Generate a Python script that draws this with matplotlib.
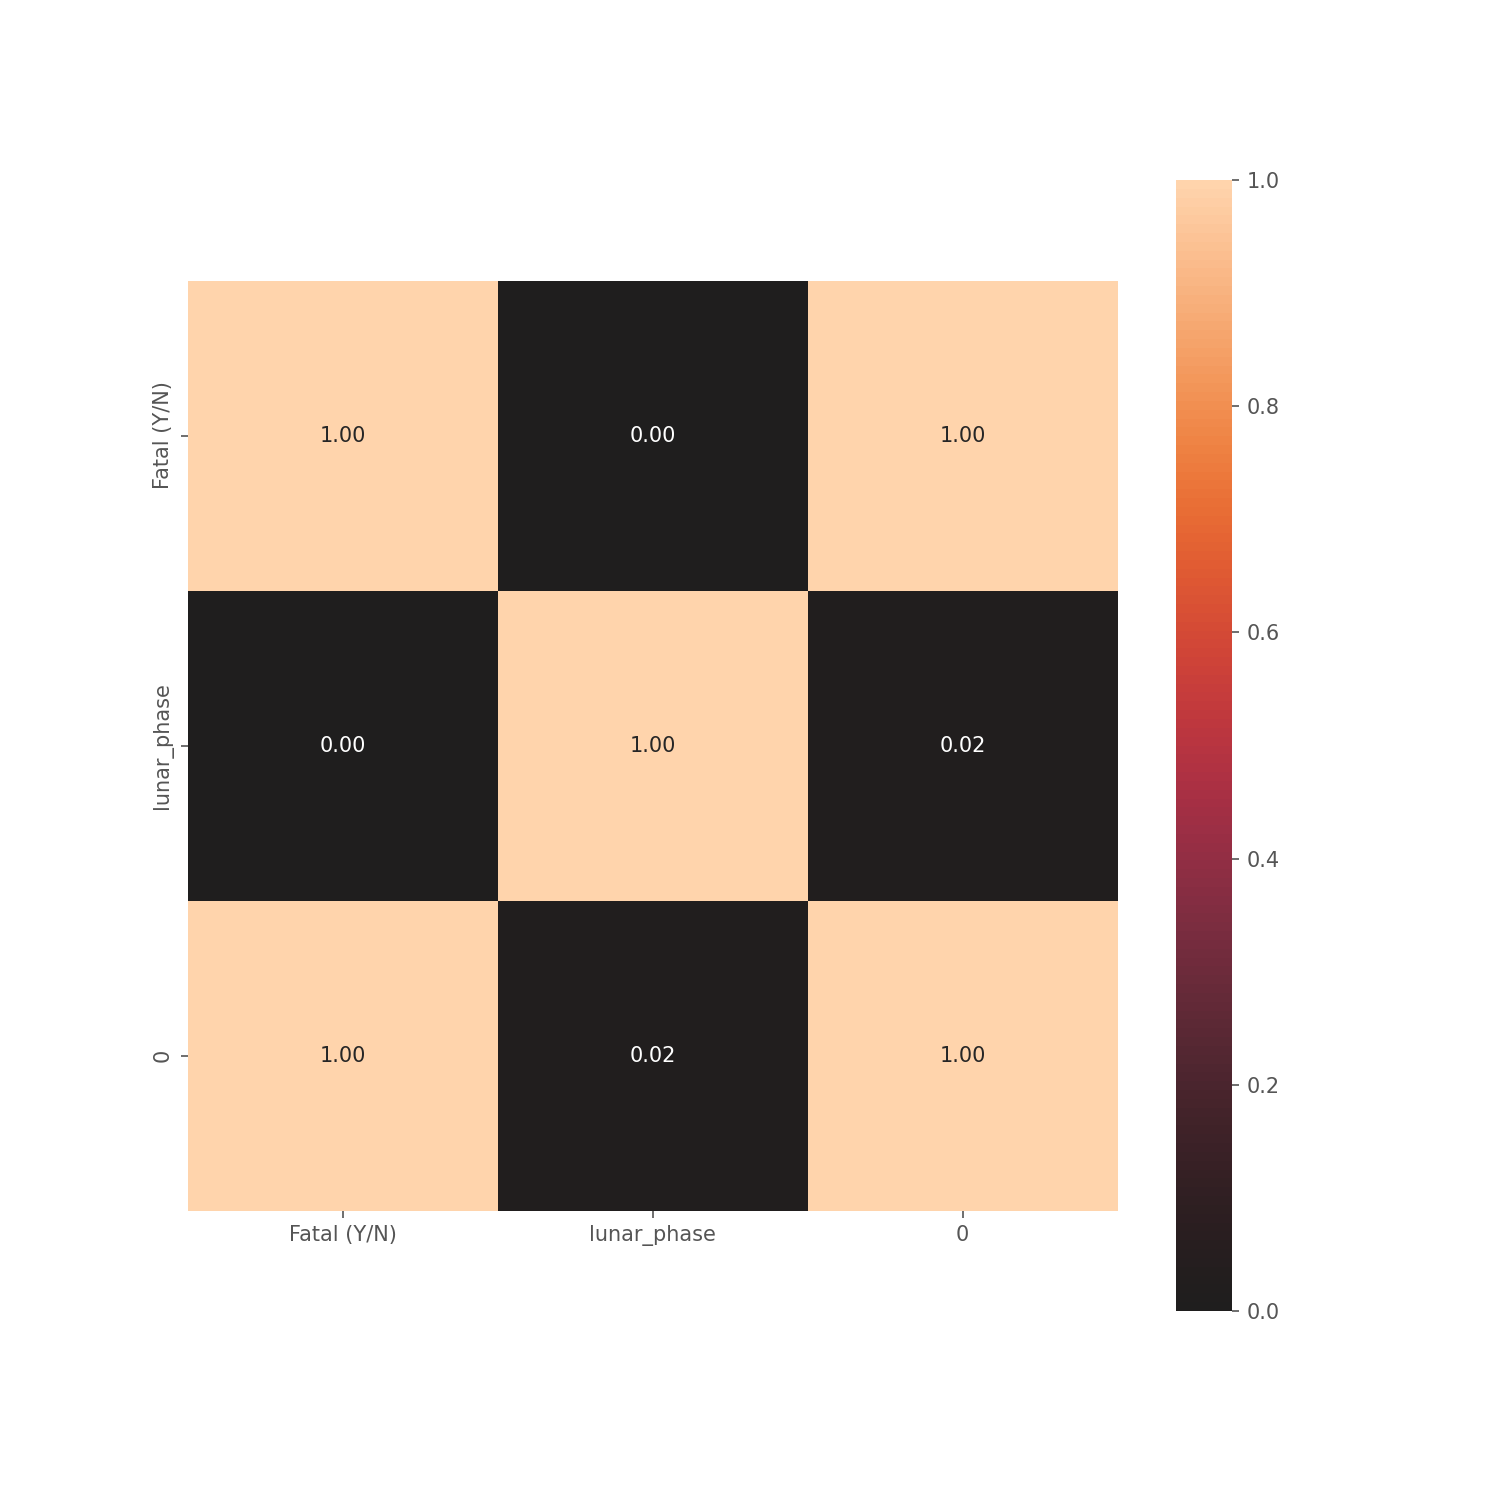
import numpy as np
import pandas as pd
import matplotlib
matplotlib.use("Agg")
import matplotlib.pyplot as plt
import seaborn as sns

labels = ['Fatal (Y/N)', 'lunar_phase', '0']
row_fatal = [1.00, 0.003, 0.999]
row_lunar = [0.003, 1.00, 0.02]
row_zero = [0.999, 0.02, 1.00]

plt.style.use('ggplot')

corr = pd.DataFrame([row_fatal, row_lunar, row_zero], index=labels, columns=labels)

fig, ax = plt.subplots(figsize=(10, 10), dpi=150)
fig.subplots_adjust(bottom=0.126)
sns.heatmap(corr, annot=True, fmt='.2f', center=0, vmin=0, vmax=1, square=True, ax=ax)
plt.savefig('out.png')
